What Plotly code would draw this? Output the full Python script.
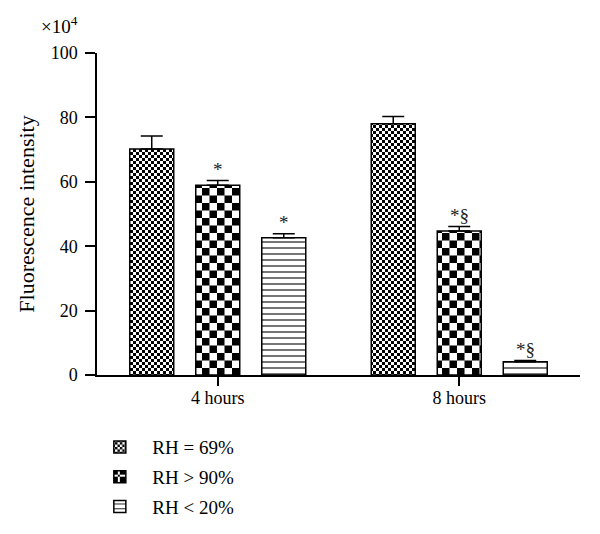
import plotly.graph_objects as go

## Data

times = ['4 hours', '8 hours']
groups = ['RH = 69%', 'RH > 90%', 'RH < 20%']
means = {
    'RH = 69%': [70.2, 78.0],
    'RH > 90%': [58.9, 44.7],
    'RH < 20%': [42.6, 4.1],
}
errs = {
    'RH = 69%': [4.0, 2.3],
    'RH > 90%': [1.5, 1.4],
    'RH < 20%': [1.3, 0.4],
}
marks = {
    'RH = 69%': ['', ''],
    'RH > 90%': ['*', '*§'],
    'RH < 20%': ['*', '*§'],
}

## Styles

FONT = 'Liberation Serif'

def checker(s):
    # custom checkerboard tile if the installed plotly supports pattern paths
    h = s / 2
    if 'path' in go.bar.marker.Pattern()._valid_props:
        return dict(path=f'M0,0H{h}V{h}H0Z M{h},{h}H{s}V{s}H{h}Z', size=s)
    return dict(shape='x', size=s, solidity=0.5)

patterns = {
    'RH = 69%': checker(6),
    'RH > 90%': checker(15),
    'RH < 20%': dict(shape='-', size=6, solidity=0.18),
}
BARGAP = 0.18
slot = (1 - BARGAP) / len(groups)

fig = go.Figure()
for g in groups:
    fig.add_trace(go.Bar(
        x=times, y=means[g], name=g, legendgroup=g,
        marker=dict(color='white', line=dict(color='black', width=1.5),
                    pattern=dict(fgcolor='black', bgcolor='white', fgopacity=1, **patterns[g])),
        error_y=dict(type='data', array=errs[g], symmetric=False, arrayminus=[0, 0],
                     color='black', thickness=1.5, width=11),
    ))

# significance marks above the error bars
for k, g in enumerate(groups):
    for i, t in enumerate(times):
        if marks[g][i]:
            fig.add_annotation(x=i + (k - 1) * slot, y=means[g][i] + errs[g][i],
                               text=marks[g][i], showarrow=False, yanchor='bottom',
                               yshift=-1, font=dict(family=FONT, size=19, color='#222222'))

fig.add_annotation(xref='paper', yref='paper', x=-0.035, y=1.045, text='×10<sup>4</sup>',
                   showarrow=False, xanchor='right', yanchor='bottom',
                   font=dict(family=FONT, size=19, color='black'))

# page body has an 8px margin, so the figure is 592x526 with margins shifted to match
fig.update_layout(
    width=592, height=526,
    margin=dict(l=89, r=20, t=45, b=159, autoexpand=False),
    plot_bgcolor='white', paper_bgcolor='white',
    barmode='group', bargap=BARGAP, bargroupgap=1/3,
    font=dict(family=FONT, size=18, color='black'),
    legend=dict(x=-0.02, y=-0.165, xanchor='left', yanchor='top',
                tracegroupgap=2, itemwidth=55, font=dict(size=19)),
)
fig.update_xaxes(range=[-0.5, 1.5], showline=True, linecolor='black', linewidth=1.5,
                 ticks='outside', ticklen=9, tickwidth=1.5, tickcolor='black',
                 ticklabelstandoff=-3, showgrid=False)
fig.update_yaxes(range=[0, 100], dtick=20, showline=True, linecolor='black', linewidth=1.5,
                 ticks='outside', ticklen=10, tickwidth=1.5, tickcolor='black',
                 ticklabelstandoff=4, showgrid=False, zeroline=False,
                 title=dict(text='Fluorescence intensity', standoff=10))

fig.write_html('out.html')
